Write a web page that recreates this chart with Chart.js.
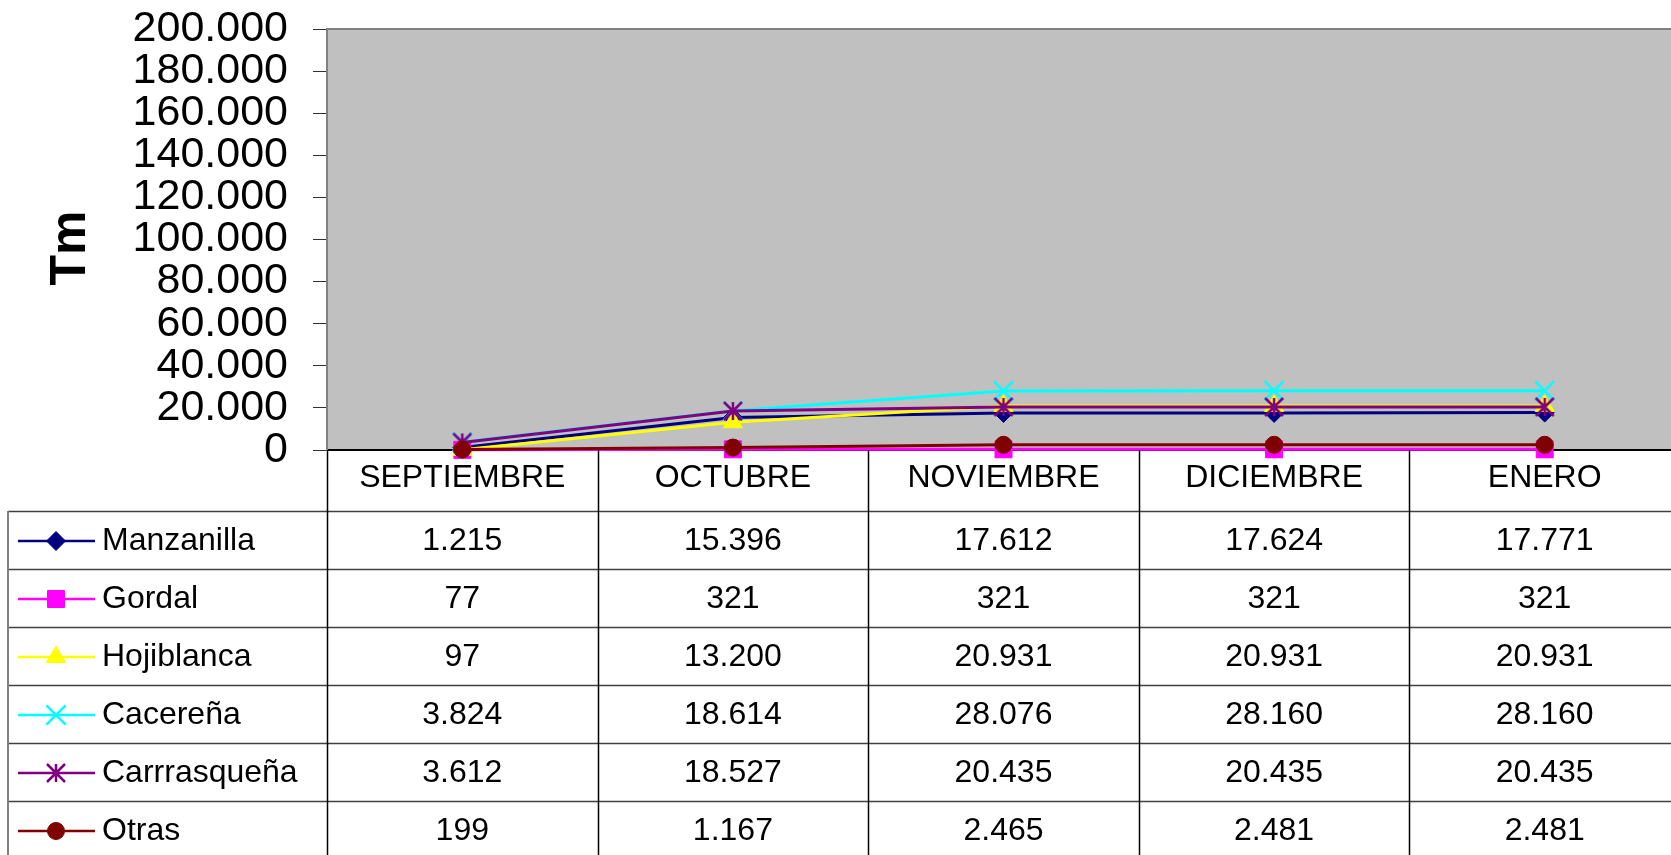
<!DOCTYPE html>
<html>
<head>
<meta charset="utf-8">
<script src="https://cdn.jsdelivr.net/npm/chart.js@4/dist/chart.umd.min.js"></script>
<style>
  html, body { margin: 0; padding: 0; background: #fff; overflow: hidden; }
  /* la tabla original sigue un poco mas alla del borde derecho */
  #wrap { position: relative; width: 1680px; height: 855px; }
</style>
</head>
<body>
<div id="wrap"><canvas id="olivasChart"></canvas></div>
<script>
const meses = ['SEPTIEMBRE', 'OCTUBRE', 'NOVIEMBRE', 'DICIEMBRE', 'ENERO'];
const variedades = ['Manzanilla', 'Gordal', 'Hojiblanca', 'Cacereña', 'Carrrasqueña', 'Otras'];
const manzanilla = [1215, 15396, 17612, 17624, 17771];
const gordal = [77, 321, 321, 321, 321];
const hojiblanca = [97, 13200, 20931, 20931, 20931];
const cacerena = [3824, 18614, 28076, 28160, 28160];
const carrasquena = [3612, 18527, 20435, 20435, 20435];
const otras = [199, 1167, 2465, 2481, 2481];
const yMin = 0;
const yMax = 200000;
const yStep = 20000;
const yTitulo = 'Tm';

const FONT = '"Liberation Sans", Arial, sans-serif';

function fmt(n) {
    return n.toString().replace(/\B(?=(\d{3})+(?!\d))/g, '.');
}

// marcador asterisco tipo Excel (X + linea vertical)
function asterisco(color, d) {
    const c = document.createElement('canvas');
    const s = Math.ceil(d * 2 + 4);
    c.width = s;
    c.height = s;
    const g = c.getContext('2d');
    const m = s / 2;
    g.strokeStyle = color;
    g.lineWidth = 2.5;
    g.beginPath();
    g.moveTo(m - d, m - d); g.lineTo(m + d, m + d);
    g.moveTo(m + d, m - d); g.lineTo(m - d, m + d);
    g.moveTo(m, m - d); g.lineTo(m, m + d);
    g.stroke();
    return c;
}

function serie(label, data, color, style, radius, i) {
    return {
        label: label,
        data: data,
        borderColor: color,
        backgroundColor: color,
        borderWidth: 3,
        pointStyle: style,
        pointRadius: radius,
        pointBackgroundColor: color,
        pointBorderColor: color,
        pointBorderWidth: (style === 'crossRot') ? 2.5 : 1,
        tension: 0,
        clip: false,
        order: -i
    };
}

const datasets = [
    serie(variedades[0], manzanilla, '#000080', 'rectRot', 9.5, 0),
    serie(variedades[1], gordal, '#FF00FF', 'rect', 12, 1),
    serie(variedades[2], hojiblanca, '#FFFF00', 'triangle', 11, 2),
    serie(variedades[3], cacerena, '#00FFFF', 'crossRot', 13.5, 3),
    serie(variedades[4], carrasquena, '#800080', asterisco('#800080', 9), 10, 4),
    serie(variedades[5], otras, '#800000', 'circle', 8.5, 5)
];

const tablaPlugin = {
    id: 'tablaDatos',
    beforeDraw(chart) {
        const ctx = chart.ctx;
        const a = chart.chartArea;
        ctx.save();
        ctx.fillStyle = '#C0C0C0';
        ctx.fillRect(a.left, a.top, a.right - a.left, a.bottom - a.top);
        ctx.strokeStyle = '#808080';
        ctx.lineWidth = 2;
        ctx.beginPath();
        ctx.moveTo(a.left, a.top);
        ctx.lineTo(a.right, a.top);
        ctx.stroke();

        // titulo del eje y
        ctx.translate(71, 248);
        ctx.rotate(-Math.PI / 2);
        ctx.fillStyle = '#000';
        ctx.font = 'bold 50px ' + FONT;
        ctx.textAlign = 'center';
        ctx.textBaseline = 'middle';
        ctx.fillText(yTitulo, 0, 0);
        ctx.restore();
    },
    afterDraw(chart) {
        const ctx = chart.ctx;
        const a = chart.chartArea;
        const xs = chart.scales.x;
        const n = meses.length;
        const colW = (a.right - a.left) / n;
        const headBottom = 511;
        const rowH = 58;
        const left = 8;
        const bottom = chart.height;

        ctx.save();
        // lineas horizontales
        ctx.strokeStyle = '#404040';
        ctx.lineWidth = 1.5;
        for (let r = 0; r <= datasets.length; r++) {
            const y = Math.round(headBottom + r * rowH) + 0.5;
            if (y > bottom) break;
            ctx.beginPath();
            ctx.moveTo(left, y);
            ctx.lineTo(a.right, y);
            ctx.stroke();
        }
        // borde izquierdo
        ctx.strokeStyle = '#808080';
        ctx.lineWidth = 2;
        ctx.beginPath();
        ctx.moveTo(left, headBottom);
        ctx.lineTo(left, bottom);
        ctx.stroke();
        // lineas verticales
        ctx.strokeStyle = '#000';
        ctx.lineWidth = 1.5;
        for (let c = 0; c < n; c++) {
            const x = Math.round(a.left + c * colW) + 0.5;
            ctx.beginPath();
            ctx.moveTo(x, a.bottom);
            ctx.lineTo(x, bottom);
            ctx.stroke();
        }

        // leyenda y valores
        ctx.font = '32px ' + FONT;
        ctx.textBaseline = 'middle';
        chart.data.datasets.forEach((ds, i) => {
            const cy = headBottom + rowH * (i + 0.5) + 1;
            ctx.strokeStyle = ds.borderColor;
            ctx.lineWidth = 2.5;
            ctx.beginPath();
            ctx.moveTo(18, cy);
            ctx.lineTo(95, cy);
            ctx.stroke();
            ctx.fillStyle = ds.pointBackgroundColor;
            ctx.strokeStyle = ds.pointBorderColor;
            ctx.lineWidth = ds.pointBorderWidth;
            Chart.helpers.drawPoint(ctx, {
                pointStyle: ds.pointStyle,
                radius: ds.pointRadius,
                rotation: 0,
                borderWidth: ds.pointBorderWidth
            }, 56, cy);

            ctx.fillStyle = '#000';
            ctx.textAlign = 'left';
            ctx.fillText(ds.label, 102, cy);
            ctx.textAlign = 'center';
            ds.data.forEach((v, j) => {
                ctx.fillText(fmt(v), xs.getPixelForValue(j), cy);
            });
        });
        ctx.restore();
    }
};

new Chart(document.getElementById('olivasChart'), {
    type: 'line',
    data: {
        labels: meses,
        datasets: datasets
    },
    options: {
        responsive: true,
        maintainAspectRatio: false,
        animation: false,
        layout: { autoPadding: false, padding: { top: 29, left: 0, right: 0, bottom: 0 } },
        plugins: {
            legend: { display: false },
            tooltip: { enabled: false }
        },
        scales: {
            x: {
                offset: true,
                afterFit(scale) {
                    scale.height = 405;
                    scale.paddingLeft = 0;
                    scale.paddingRight = 0;
                },
                grid: { display: false, drawTicks: false },
                border: { display: true, color: '#000', width: 2 },
                ticks: {
                    padding: 9,
                    color: '#000',
                    maxRotation: 0,
                    autoSkip: false,
                    font: { family: FONT, size: 32 }
                }
            },
            y: {
                min: yMin,
                max: yMax,
                afterFit(scale) {
                    scale.width = 327;
                    scale.paddingTop = 0;
                    scale.paddingBottom = 0;
                },
                grid: { drawOnChartArea: false, drawTicks: true, tickLength: 14, color: '#303030' },
                border: { display: true, color: '#808080', width: 2 },
                ticks: {
                    stepSize: yStep,
                    autoSkip: false,
                    padding: 25,
                    color: '#000',
                    font: { family: FONT, size: 43 },
                    callback: v => fmt(v)
                }
            }
        }
    },
    plugins: [tablaPlugin]
});
</script>
</body>
</html>
